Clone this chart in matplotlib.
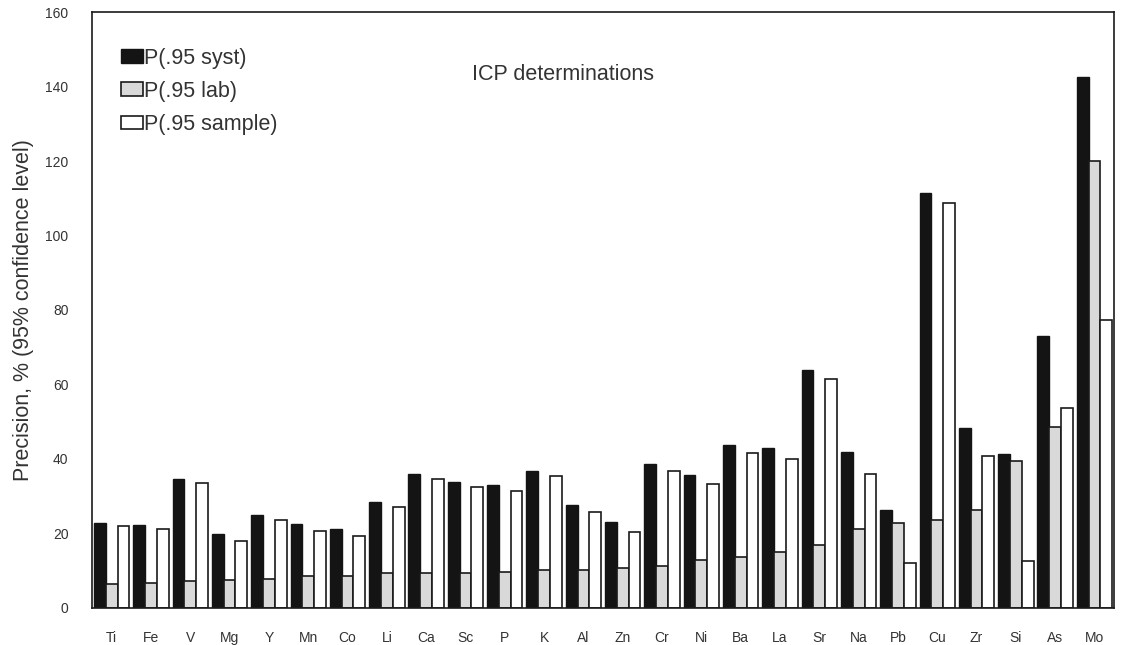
import matplotlib
matplotlib.use("Agg")
import matplotlib.pyplot as plt
import numpy as np

plt.rcParams['font.family'] = ['Liberation Sans', 'DejaVu Sans']

# data
elements = ["Ti", "Fe", "V", "Mg", "Y", "Mn", "Co", "Li", "Ca", "Sc", "P", "K", "Al",
            "Zn", "Cr", "Ni", "Ba", "La", "Sr", "Na", "Pb", "Cu", "Zr", "Si", "As", "Mo"]
p_syst = [22.8, 22.2, 34.5, 19.7, 24.9, 22.5, 21.1, 28.4, 35.9, 33.8, 32.8, 36.7, 27.6,
          23.1, 38.5, 35.6, 43.7, 42.8, 63.9, 41.8, 26.1, 111.3, 48.3, 41.3, 72.9, 142.6]
p_lab = [6.3, 6.5, 7.1, 7.4, 7.8, 8.5, 8.6, 9.2, 9.2, 9.4, 9.6, 10.0, 10.0,
         10.6, 11.1, 12.9, 13.6, 14.8, 16.9, 21.1, 22.8, 23.5, 26.1, 39.3, 48.6, 120.0]
p_sample = [21.8, 21.2, 33.6, 18.0, 23.6, 20.6, 19.2, 26.9, 34.6, 32.4, 31.4, 35.3, 25.6,
            20.4, 36.7, 33.1, 41.5, 40.0, 61.5, 35.8, 12.1, 108.7, 40.6, 12.5, 53.6, 77.2]
yticks = [0, 20, 40, 60, 80, 100, 120, 140, 160]

fig = plt.figure(figsize=(11.22, 6.45), dpi=100)
ax = fig.add_axes([0.082, 0.0581, 0.911, 0.923])

x = np.arange(len(elements))
w = 0.3
ax.bar(x - w, p_syst, w, color="#141414", edgecolor="#141414", linewidth=1.0,
       label="P(.95 syst)")
ax.bar(x, p_lab, w, color="#d9d9d9", edgecolor="#1a1a1a", linewidth=1.2,
       label="P(.95 lab)")
ax.bar(x + w, p_sample, w, color="white", edgecolor="#1a1a1a", linewidth=1.2,
       label="P(.95 sample)")

ax.set_xlim(-0.5, len(elements) - 0.5)
ax.set_ylim(0, 160)
ax.set_yticks(yticks)
ax.set_xticks(x)
ax.set_xticklabels(elements)
ax.tick_params(axis="y", length=0, pad=17, labelsize=10, labelcolor="#333333")
ax.tick_params(axis="x", length=0, pad=17, labelsize=10, labelcolor="#333333")
for s in ax.spines.values():
    s.set_linewidth(1.2)
    s.set_color("#1a1a1a")

ax.set_ylabel("Precision, % (95% confidence level)", fontsize=15.5, color="#333333",
              labelpad=8)

ax.text(0.461, 0.896, "ICP determinations", transform=ax.transAxes, fontsize=15.5,
        color="#333333", ha="center", va="center")

leg = ax.legend(loc="upper left", bbox_to_anchor=(0.02, 0.955), frameon=False,
                fontsize=15.5, handlelength=1.0, handleheight=0.6,
                handletextpad=0.05, labelspacing=0.57, borderaxespad=0)
for t in leg.get_texts():
    t.set_color("#333333")

fig.savefig("out.png", dpi=100)
